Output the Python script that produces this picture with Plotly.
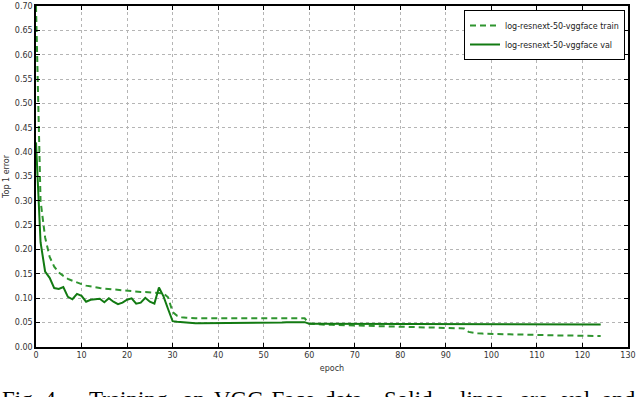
import plotly.graph_objects as go

epochs = list(range(0, 125))

train_head = [0.700, 0.300, 0.225, 0.185, 0.165, 0.153, 0.146, 0.140, 0.136, 0.132,
              0.129, 0.126, 0.124, 0.122, 0.121, 0.120, 0.119, 0.118, 0.117, 0.116,
              0.115, 0.114, 0.114, 0.113, 0.113, 0.112, 0.112, 0.111, 0.110, 0.102,
              0.072, 0.064, 0.061, 0.060]
train_mid = [0.059, 0.059, 0.059, 0.059, 0.059, 0.059, 0.059, 0.059, 0.059, 0.059,
             0.059, 0.0595, 0.0595, 0.0595, 0.0595, 0.0595, 0.060, 0.060, 0.060, 0.060,
             0.060, 0.060, 0.060, 0.060, 0.060, 0.059]          # epochs 34-59
train_late = [0.048, 0.047, 0.046, 0.046, 0.0455, 0.0455, 0.045, 0.045, 0.0445, 0.0445,
              0.044, 0.044, 0.0435, 0.0435, 0.043, 0.043, 0.0425, 0.0425, 0.042, 0.042,
              0.0415, 0.0415, 0.041, 0.041, 0.0405, 0.0405, 0.040, 0.040, 0.0395, 0.0395,
              0.039, 0.039, 0.0385, 0.0385, 0.038]                 # epochs 60-94
train_tail = [0.031, 0.029, 0.028, 0.0275, 0.027, 0.027, 0.0265, 0.0265, 0.026, 0.026,
              0.026, 0.0255, 0.0255, 0.025, 0.025, 0.025, 0.0245, 0.0245, 0.024, 0.024,
              0.024, 0.0235, 0.0235, 0.0235, 0.023, 0.023, 0.023, 0.023, 0.0228, 0.0226]  # 95-124
train_err = train_head + train_mid + train_late + train_tail

val_head = [0.420, 0.215, 0.155, 0.142, 0.121, 0.119, 0.123, 0.103, 0.098, 0.109,
            0.105, 0.093, 0.097, 0.098, 0.099, 0.092, 0.100, 0.093, 0.088, 0.091,
            0.097, 0.100, 0.089, 0.091, 0.101, 0.093, 0.089, 0.122, 0.104, 0.078,
            0.053, 0.052, 0.051, 0.050]
val_mid = [0.049, 0.049, 0.049, 0.049, 0.049, 0.049, 0.049, 0.049, 0.049, 0.049,
           0.0495, 0.0495, 0.050, 0.050, 0.050, 0.050, 0.050, 0.050, 0.0505, 0.0505,
           0.0505, 0.051, 0.051, 0.051, 0.0515, 0.051]             # epochs 34-59
val_late = [0.0475, 0.0475, 0.0475, 0.0475, 0.0475, 0.0475, 0.0475, 0.0475, 0.0475, 0.0475,
            0.047, 0.047, 0.047, 0.047, 0.047, 0.047, 0.047, 0.047, 0.047, 0.047,
            0.047, 0.047, 0.047, 0.047, 0.047, 0.047, 0.047, 0.047, 0.047, 0.047,
            0.0465, 0.0465, 0.0465, 0.0465, 0.0465, 0.0465, 0.0465, 0.0465, 0.0465, 0.0465,
            0.0465, 0.0465, 0.0465, 0.0465, 0.0465, 0.0465, 0.0465, 0.0465, 0.0465, 0.0465,
            0.046, 0.046, 0.046, 0.046, 0.046, 0.046, 0.046, 0.046, 0.046, 0.046,
            0.046, 0.046, 0.046, 0.046, 0.046]                     # epochs 60-124
val_err = val_head + val_mid + val_late

x_ticks = list(range(0, 131, 10))
y_ticks = [round(i * 0.05, 2) for i in range(15)]
y_tick_labels = ["%.2f" % v for v in y_ticks]

train_name = "log-resnext-50-vggface train"
val_name = "log-resnext-50-vggface val"
x_title = "epoch"
y_title = "Top 1 error"
caption_words = ["Fig. 4.", "Training", "on", "VGG-Face", "data.", "Solid", "lines", "are", "val", "and"]

# layout geometry (pixels)
W, H = 640, 397
ML, MR, MT, MB = 36, 12, 6, 50
PW, PH = W - ML - MR, H - MT - MB
caption_px = [0, 87, 180, 212, 322, 382, 458, 518, 560, 600]
caption_top = 385

fig = go.Figure()
fig.add_trace(go.Scatter(x=epochs, y=train_err, mode="lines", name=train_name,
                         line=dict(color="#2f952f", width=2, dash="6px,4px")))
fig.add_trace(go.Scatter(x=epochs, y=val_err, mode="lines", name=val_name,
                         line=dict(color="#127a12", width=2)))

axis_common = dict(showline=True, linecolor="black", linewidth=1.5, mirror="allticks",
                   ticks="inside", ticklen=4, tickcolor="black",
                   showgrid=True, gridcolor="#b5b5b5", griddash="dot", gridwidth=1,
                   zeroline=False, tickfont=dict(family="DejaVu Sans", size=8, color="#333"),
                   automargin=False)

fig.update_xaxes(range=[0, 130], tickvals=x_ticks, title=dict(text=x_title, standoff=6,
                 font=dict(family="DejaVu Sans", size=8, color="#333")), **axis_common)
fig.update_yaxes(range=[0, 0.70], tickvals=y_ticks, ticktext=y_tick_labels,
                 title=dict(text=y_title, standoff=4,
                            font=dict(family="DejaVu Sans", size=8, color="#333")), **axis_common)

annotations = []
for word, px in zip(caption_words, caption_px):
    annotations.append(dict(text=word, xref="paper", yref="paper",
                            x=(px - ML) / PW, y=(H - MB - caption_top) / PH,
                            xanchor="left", yanchor="top", showarrow=False,
                            font=dict(family="Liberation Serif", size=23, color="black")))

fig.update_layout(
    width=W, height=H,
    margin=dict(l=ML, r=MR, t=MT, b=MB),
    paper_bgcolor="white", plot_bgcolor="white",
    showlegend=True,
    legend=dict(x=(625 - ML) / PW, y=(H - MB - 10) / PH, xanchor="right", yanchor="top",
                bordercolor="black", borderwidth=1, bgcolor="white",
                font=dict(family="DejaVu Sans", size=8, color="#222"),
                tracegroupgap=0, itemwidth=30),
    annotations=annotations,
)

fig.write_html("out.html", config={"displayModeBar": False},
               post_script="document.body.style.margin='0px';")
